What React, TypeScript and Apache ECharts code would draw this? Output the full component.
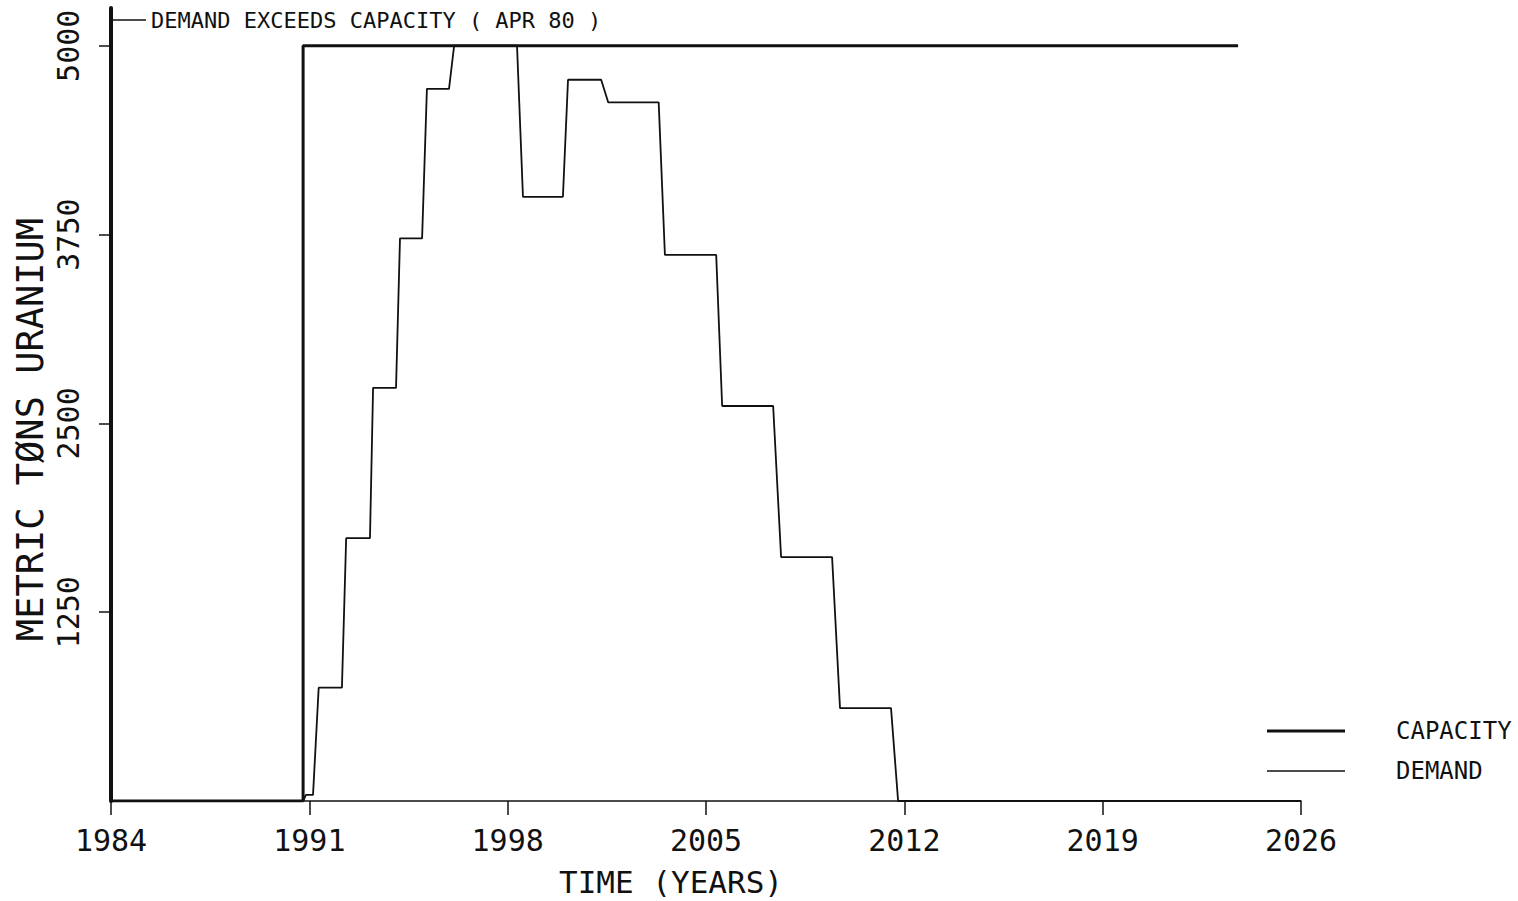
import React, { useEffect, useRef } from "react";
import * as echarts from "echarts";

const FONT = "'DejaVu Sans Mono', monospace";

const xTickYears = [1984, 1991, 1998, 2005, 2012, 2019, 2026];
const yTickValues = [1250, 2500, 3750, 5000];

const capacityYears = [1984, 1990.78, 1990.78, 2023.78];
const capacityValues = [0, 0, 5000, 5000];

const demandYears = [
  1984, 1990.78, 1990.88, 1991.13, 1991.33, 1992.15, 1992.3, 1993.14, 1993.25,
  1994.06, 1994.2, 1994.98, 1995.15, 1995.93, 1996.11, 1998.33, 1998.54,
  1999.95, 2000.13, 2001.3, 2001.55, 2003.33, 2003.55, 2005.36, 2005.57,
  2007.37, 2007.65, 2009.45, 2009.73, 2011.53, 2011.78, 2026,
];
const demandValues = [
  0, 0, 40, 40, 750, 750, 1740, 1740, 2735, 2735, 3725, 3725, 4715, 4715, 5000,
  5000, 4000, 4000, 4775, 4775, 4625, 4625, 3615, 3615, 2615, 2615, 1615, 1615,
  615, 615, 0, 0,
];

const annotationText = "DEMAND EXCEEDS CAPACITY ( APR 80 )";

export default function App() {
  const ref = useRef<HTMLDivElement>(null);
  useEffect(() => {
    if (!ref.current) return;
    const chart = echarts.init(ref.current, null, { renderer: "svg" });
    const capacity = capacityYears.map((x, i) => [x, capacityValues[i]]);
    const demand = demandYears.map((x, i) => [x, demandValues[i]]);
    const legendText = { fontFamily: FONT, fontSize: 24, color: "#111", padding: [0, 0, 0, 46] };
    chart.setOption({
      animation: false,
      backgroundColor: "#ffffff",
      textStyle: { fontFamily: FONT, color: "#111" },
      grid: { left: 111, right: 217, top: 8, bottom: 100, containLabel: false, outerBoundsMode: "none" },
      legend: [
        {
          orient: "vertical",
          left: 1262,
          top: 714,
          icon: "rect",
          itemWidth: 78,
          itemHeight: 3,
          textStyle: legendText,
          data: ["CAPACITY"],
        },
        {
          orient: "vertical",
          left: 1262,
          top: 754,
          icon: "rect",
          itemWidth: 78,
          itemHeight: 1.5,
          textStyle: legendText,
          data: ["DEMAND"],
        },
      ],
      xAxis: {
        type: "value",
        min: 1984,
        max: 2026,
        splitLine: { show: false },
        axisLine: { lineStyle: { color: "#111", width: 1.5 } },
        axisTick: { show: true, length: 14, customValues: xTickYears, lineStyle: { color: "#111", width: 1.5 } },
        axisLabel: {
          customValues: xTickYears,
          formatter: (v: number) => String(v),
          fontFamily: FONT,
          fontSize: 30,
          color: "#111",
          margin: 24,
        },
        name: "TIME (YEARS)",
        nameLocation: "middle",
        nameGap: 66,
        nameTextStyle: { fontFamily: FONT, fontSize: 31, lineHeight: 30, color: "#111", padding: [0, 70, 0, 0] },
      },
      yAxis: {
        type: "value",
        min: 0,
        max: 5250,
        splitLine: { show: false },
        axisLine: { show: true, lineStyle: { color: "#111", width: 4 } },
        axisTick: { show: true, length: 12, customValues: yTickValues, lineStyle: { color: "#111", width: 1.5 } },
        axisLabel: {
          customValues: yTickValues,
          formatter: (v: number) => String(v),
          rotate: 90,
          fontFamily: FONT,
          fontSize: 30,
          color: "#111",
          margin: 28,
        },
        name: "METRIC TØNS URANIUM",
        nameLocation: "middle",
        nameRotate: 90,
        nameGap: 62,
        nameMoveOverlap: false,
        nameTextStyle: { fontFamily: FONT, fontSize: 37, color: "#111", padding: [0, 50, 0, 0] },
      },
      series: [
        {
          name: "CAPACITY",
          type: "line",
          data: capacity,
          symbol: "none",
          lineStyle: { color: "#111", width: 3 },
          itemStyle: { color: "#111" },
          z: 3,
        },
        {
          name: "DEMAND",
          type: "line",
          data: demand,
          symbol: "none",
          lineStyle: { color: "#111", width: 1.8 },
          itemStyle: { color: "#111" },
          z: 2,
        },
      ],
      graphic: [
        {
          type: "line",
          shape: { x1: 113, y1: 20, x2: 146, y2: 20 },
          style: { stroke: "#111", lineWidth: 1.5 },
        },
        {
          type: "text",
          x: 151,
          y: 20,
          style: {
            text: annotationText,
            fontFamily: FONT,
            fontSize: 22,
            fill: "#111",
            verticalAlign: "middle",
            align: "left",
          },
        },
      ],
    });
    return () => chart.dispose();
  }, []);
  return <div ref={ref} style={{ width: 1518, height: 901, position: "absolute", left: 0, top: 0 }} />;
}
